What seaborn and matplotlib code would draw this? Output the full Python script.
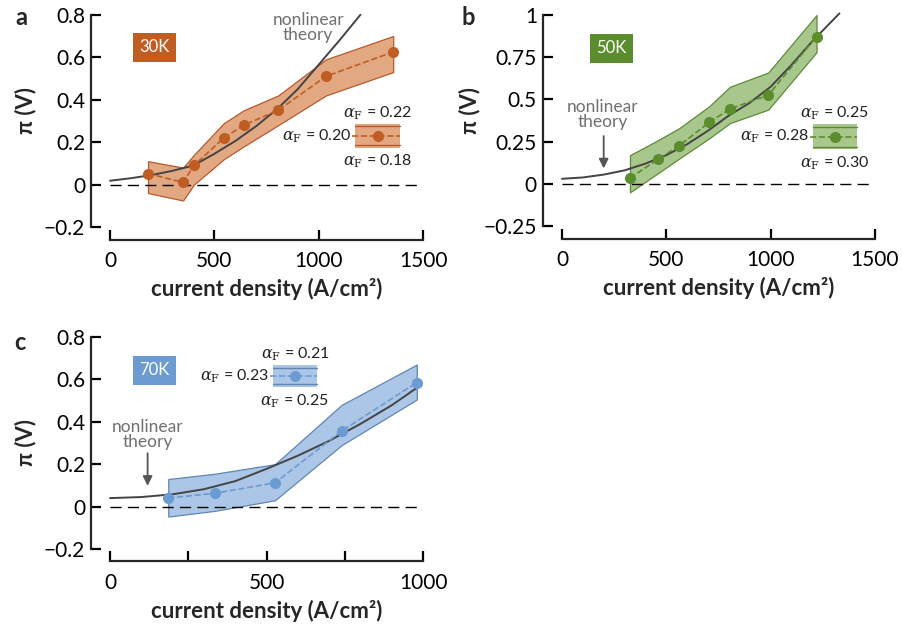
import numpy as np
import matplotlib
matplotlib.use("Agg")
import matplotlib.pyplot as plt
import seaborn as sns
from matplotlib.patches import Rectangle
from matplotlib.lines import Line2D

# panel a : 30K
a_x = [182, 350, 402, 546, 641, 806, 1035, 1357]
a_y = [0.052, 0.01, 0.09, 0.22, 0.28, 0.35, 0.51, 0.625]
a_hi = [0.11, 0.08, 0.14, 0.29, 0.35, 0.42, 0.59, 0.70]
a_lo = [-0.04, -0.075, 0.0, 0.12, 0.18, 0.28, 0.42, 0.53]
a_th_x = [0, 100, 200, 300, 400, 500, 600, 700, 800, 900, 1000, 1100, 1200]
a_th_y = [0.018, 0.03, 0.045, 0.065, 0.09, 0.145, 0.205, 0.275, 0.355, 0.45, 0.565, 0.68, 0.80]
a_alpha = ["0.22", "0.20", "0.18"]

# panel b : 50K
b_x = [326, 462, 562, 706, 805, 989, 1220]
b_y = [0.034, 0.147, 0.226, 0.365, 0.444, 0.526, 0.873]
b_hi = [0.17, 0.26, 0.33, 0.46, 0.575, 0.66, 1.0]
b_lo = [-0.05, 0.065, 0.15, 0.27, 0.36, 0.44, 0.78]
b_th_x = [0, 100, 200, 300, 400, 500, 600, 700, 800, 900, 1000, 1100, 1200, 1330]
b_th_y = [0.03, 0.038, 0.055, 0.08, 0.12, 0.17, 0.235, 0.315, 0.405, 0.48, 0.575, 0.705, 0.845, 1.01]
b_alpha = ["0.25", "0.28", "0.30"]

# panel c : 70K
c_x = [186, 335, 527, 740, 980]
c_y = [0.04, 0.063, 0.112, 0.357, 0.585]
c_hi = [0.13, 0.155, 0.20, 0.48, 0.67]
c_lo = [-0.047, -0.02, 0.03, 0.29, 0.505]
c_th_x = [0, 100, 200, 300, 400, 500, 600, 700, 800, 900, 980]
c_th_y = [0.04, 0.045, 0.058, 0.082, 0.12, 0.178, 0.24, 0.31, 0.39, 0.478, 0.56]
c_alpha = ["0.21", "0.23", "0.25"]

ORANGE = ("#c05d22", "#e2a882", "#b9592a")
GREEN = ("#5b8d2d", "#a8c78c", "#5e8a38")
BLUE = ("#6c9bd1", "#abc6e6", "#5f86b5")

sns.set_theme(style="ticks")
plt.rcParams['font.family'] = ['Lato', 'DejaVu Sans']
plt.rcParams['mathtext.fontset'] = 'dejavuserif'

fig = plt.figure(figsize=(9.02, 6.28), dpi=100)
ax_a = fig.add_axes([0.122, 0.6385, 0.347, 0.338])
ax_b = fig.add_axes([0.623, 0.640, 0.347, 0.336])
ax_c = fig.add_axes([0.122, 0.1258, 0.347, 0.3376])


def draw_panel(ax, x, y, hi, lo, thx, thy, cols, xmax, ylims, yticks, yticklabels, xticks,
               ylab_pos):
    main, fill, edge = cols
    ax.fill_between(x, lo, hi, color=fill, edgecolor=edge, linewidth=0.9, zorder=1)
    ax.axhline(0, color="black", lw=1.0, dashes=(8, 4.5), zorder=2)
    sns.lineplot(x=thx, y=thy, ax=ax, color="#444444", lw=1.4, zorder=3, clip_on=False)
    sns.lineplot(x=x, y=y, ax=ax, color=main, lw=1.2, linestyle="--", marker="o",
                 markersize=8, markeredgewidth=0, zorder=4, clip_on=False)
    ax.set_xlim(0, xmax)
    ax.set_ylim(*ylims)
    ax.set_yticks(yticks)
    ax.set_yticklabels(yticklabels)
    ax.set_xticks(xticks)
    sns.despine(ax=ax, offset=dict(left=14, bottom=9))
    ax.spines['left'].set_bounds(*ylims)
    ax.spines['bottom'].set_bounds(0, xmax)
    for s in ('left', 'bottom'):
        ax.spines[s].set_linewidth(1.6)
    ax.tick_params(direction='in', length=7, width=1.6, labelsize=15, colors='black')
    ax.tick_params(axis='y', pad=4)
    ax.tick_params(axis='x', pad=8)
    ax.set_xlabel("current density (A/cm²)", fontsize=16, fontweight='bold', labelpad=5)
    ax.set_ylabel("π (V)", fontsize=16, fontweight='bold')
    ax.yaxis.set_label_coords(*ylab_pos)


def temp_box(ax, fx, fy, text, col):
    ax.text(fx, fy, text, transform=ax.transAxes, ha='center', va='center',
            fontsize=12, color='white',
            bbox=dict(boxstyle='square,pad=0.4', facecolor=col, edgecolor='none'))


def inset_key(ax, x0, x1, y0, y1, labels, cols):
    main, fill, edge = cols
    ax.add_patch(Rectangle((x0, y0), x1 - x0, y1 - y0, transform=ax.transAxes,
                           facecolor=fill, edgecolor='none', zorder=5))
    for yy in (y0 + 0.012, y1 - 0.012):
        ax.add_line(Line2D([x0, x1], [yy, yy], transform=ax.transAxes,
                           color=edge, lw=1.0, zorder=6))
    ym = (y0 + y1) / 2
    ax.add_line(Line2D([x0 - 0.01, x1], [ym, ym], transform=ax.transAxes,
                       color=main, lw=1.2, ls='--', zorder=6))
    ax.add_line(Line2D([(x0 + x1) / 2], [ym], transform=ax.transAxes, marker='o',
                       markersize=8, color=main, markeredgewidth=0, zorder=7))
    lab = r"$\alpha_{\mathrm{F}}$" + " = "
    xc = (x0 + x1) / 2
    ax.text(xc, y1 + 0.05, lab + labels[0], transform=ax.transAxes, ha='center',
            va='center', fontsize=11.5, color='#222222')
    ax.text(x0 - 0.012, ym, lab + labels[1], transform=ax.transAxes, ha='right',
            va='center', fontsize=11.5, color='#222222')
    ax.text(xc, y0 - 0.065, lab + labels[2], transform=ax.transAxes, ha='center',
            va='center', fontsize=11.5, color='#222222')


# a
draw_panel(ax_a, a_x, a_y, a_hi, a_lo, a_th_x, a_th_y, ORANGE, 1500, (-0.2, 0.8),
           [-0.2, 0, 0.2, 0.4, 0.6, 0.8], ["−0.2", "0", "0.2", "0.4", "0.6", "0.8"],
           [0, 500, 1000, 1500], (-0.235, 0.55))
temp_box(ax_a, 0.142, 0.847, "30K", ORANGE[0])
inset_key(ax_a, 0.783, 0.927, 0.373, 0.486, a_alpha, ORANGE)
ax_a.text(950, 0.74, "nonlinear\ntheory", ha='center', va='center', fontsize=12.5,
          color='#707070', linespacing=0.95)

# b
draw_panel(ax_b, b_x, b_y, b_hi, b_lo, b_th_x, b_th_y, GREEN, 1500, (-0.25, 1.0),
           [-0.25, 0, 0.25, 0.5, 0.75, 1], ["−0.25", "0", "0.25", "0.5", "0.75", "1"],
           [0, 500, 1000, 1500], (-0.26, 0.55))
temp_box(ax_b, 0.158, 0.842, "50K", GREEN[0])
inset_key(ax_b, 0.802, 0.942, 0.365, 0.483, b_alpha, GREEN)
ax_b.text(196, 0.41, "nonlinear\ntheory", ha='center', va='center', fontsize=12.5,
          color='#707070', linespacing=0.95)
ax_b.annotate("", xy=(200, 0.075), xytext=(200, 0.30),
              arrowprops=dict(arrowstyle='-|>', color='#555555', lw=1.3, mutation_scale=14))

# c
draw_panel(ax_c, c_x, c_y, c_hi, c_lo, c_th_x, c_th_y, BLUE, 1000, (-0.2, 0.8),
           [-0.2, 0, 0.2, 0.4, 0.6, 0.8], ["−0.2", "0", "0.2", "0.4", "0.6", "0.8"],
           [0, 250, 500, 750, 1000], (-0.235, 0.50))
ax_c.set_xticklabels(["0", "", "500", "", "1000"])
temp_box(ax_c, 0.142, 0.842, "70K", BLUE[0])
inset_key(ax_c, 0.521, 0.661, 0.764, 0.868, c_alpha, BLUE)
ax_c.text(121, 0.34, "nonlinear\ntheory", ha='center', va='center', fontsize=12.5,
          color='#707070', linespacing=0.95)
ax_c.annotate("", xy=(120, 0.085), xytext=(120, 0.265),
              arrowprops=dict(arrowstyle='-|>', color='#555555', lw=1.3, mutation_scale=14))

for letter, fx, fy in (("a", 0.024, 0.972), ("b", 0.519, 0.972), ("c", 0.022, 0.455)):
    fig.text(fx, fy, letter, fontsize=17, fontweight='bold', ha='center', va='center')

fig.savefig("out.png", dpi=100)
